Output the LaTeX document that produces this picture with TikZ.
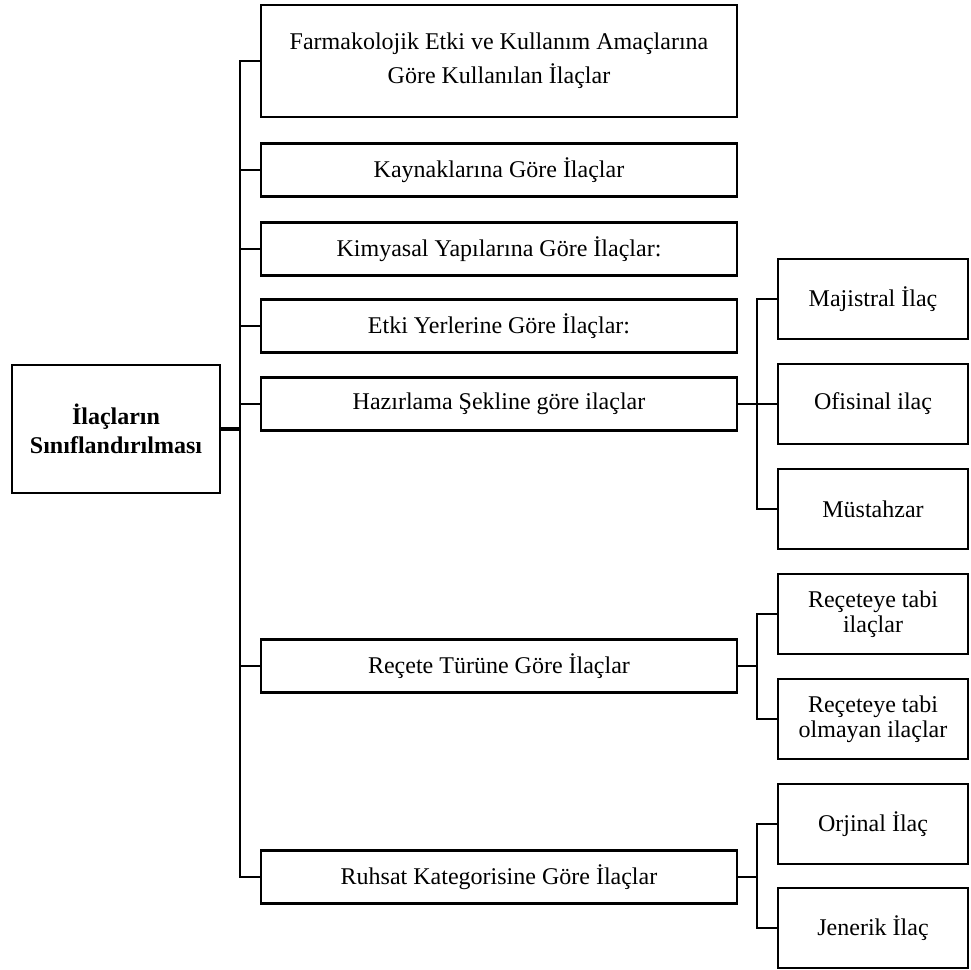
\documentclass[tikz,border=0pt]{standalone}
\usepackage{fontspec}
\setmainfont{Liberation Serif}

\begin{document}
\begin{tikzpicture}[x=0.5pt, y=-0.5pt,
    box/.style={draw, line width=1.4pt, align=center, inner sep=0pt, font=\fontsize{12}{17}\selectfont},
    midbox/.style={box, minimum width=238pt, minimum height=26.5pt},
    subbox/.style={box, minimum width=95pt, minimum height=40pt, font=\fontsize{12}{12.5}\selectfont},
    link/.style={line width=1pt}]
    \useasboundingbox (0,0) rectangle (971,970);

    \node[box, minimum width=104pt, minimum height=64pt, font=\bfseries\fontsize{12}{14.5}\selectfont] (root) at (116,429) {İlaçların\\Sınıflandırılması};

    \node[midbox, minimum height=56pt] (farma) at (499,61) {Farmakolojik Etki ve Kullanım Amaçlarına\\Göre Kullanılan İlaçlar};
    \node[midbox] (kaynak) at (499,170) {Kaynaklarına Göre İlaçlar};
    \node[midbox] (kimya) at (499,249) {Kimyasal Yapılarına Göre İlaçlar:};
    \node[midbox] (etki) at (499,326) {Etki Yerlerine Göre İlaçlar:};
    \node[midbox] (hazir) at (499,404) {Hazırlama Şekline göre ilaçlar};
    \node[midbox] (recete) at (499,666) {Reçete Türüne Göre İlaçlar};
    \node[midbox] (ruhsat) at (499,877) {Ruhsat Kategorisine Göre İlaçlar};

    \node[subbox] (majistral) at (873,299) {Majistral İlaç};
    \node[subbox] (ofisinal) at (873,404) {Ofisinal ilaç};
    \node[subbox] (mustahzar) at (873,509) {Müstahzar};
    \node[subbox] (tabi) at (873,614) {Reçeteye tabi\\ilaçlar};
    \node[subbox] (tabidegil) at (873,719) {Reçeteye tabi\\olmayan ilaçlar};
    \node[subbox] (orjinal) at (873,824) {Orjinal İlaç};
    \node[subbox] (jenerik) at (873,928) {Jenerik İlaç};

    \coordinate (trunk) at (240,429);
    \coordinate (hsplit) at (757,404);
    \coordinate (rsplit) at (757,666);
    \coordinate (ksplit) at (757,877);

    \draw[link, line width=1.8pt] (root.east) -- (trunk);
    \foreach \n in {farma,kaynak,kimya,etki,hazir,recete,ruhsat}
        \draw[link] (trunk) |- (\n.west);

    \draw[link] (hazir.east) -- (hsplit);
    \foreach \n in {majistral,ofisinal,mustahzar}
        \draw[link] (hsplit) |- (\n.west);

    \draw[link] (recete.east) -- (rsplit);
    \foreach \n in {tabi,tabidegil}
        \draw[link] (rsplit) |- (\n.west);

    \draw[link] (ruhsat.east) -- (ksplit);
    \foreach \n in {orjinal,jenerik}
        \draw[link] (ksplit) |- (\n.west);
\end{tikzpicture}
\end{document}
